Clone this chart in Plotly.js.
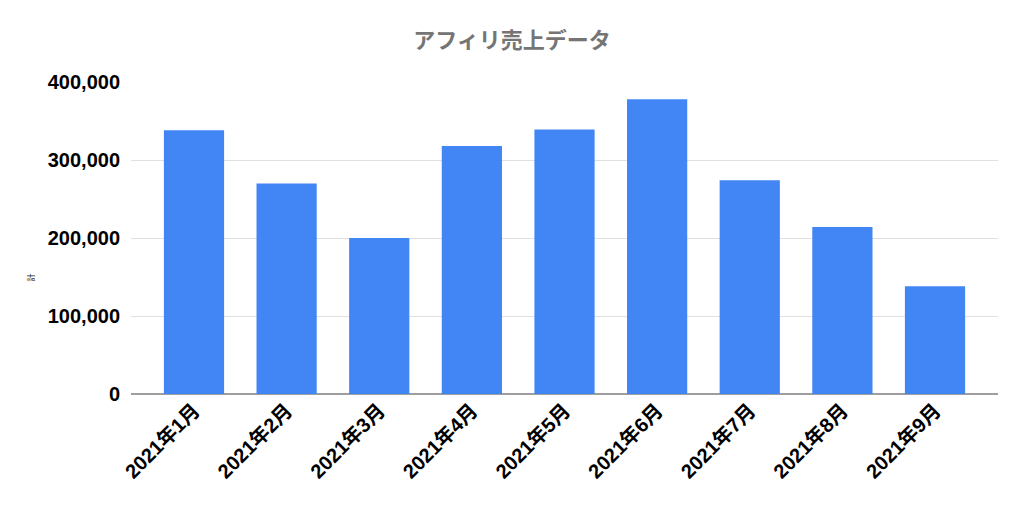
<!DOCTYPE html>
<html>
<head>
<meta charset="utf-8">
<script src="https://cdn.plot.ly/plotly-3.0.1.min.js"></script>
<style>
  html, body { margin: 0; padding: 0; background: #fff; }
  #chart { width: 1024px; height: 508px; }
</style>
</head>
<body>
<div id="chart"></div>
<script>
// Monthly affiliate sales.
const months = [
  "2021年1月", "2021年2月", "2021年3月", "2021年4月", "2021年5月",
  "2021年6月", "2021年7月", "2021年8月", "2021年9月"
];
const sales = [338000, 270000, 200000, 318000, 339000, 378000, 274000, 214000, 138000];
const yTicks = [0, 100000, 200000, 300000, 400000];
const yTickText = ["0", "100,000", "200,000", "300,000", "400,000"];
const yAxisLabel = "計";

const FONT = "Liberation Sans, Arial, 'Noto Sans CJK JP', sans-serif";

const data = [{
  type: "bar",
  x: months,
  y: sales,
  width: 0.65,
  marker: { color: "#4285f4", line: { width: 0 } },
  hoverinfo: "x+y",
}];

const layout = {
  width: 1024,
  height: 508,
  paper_bgcolor: "#ffffff",
  plot_bgcolor: "#ffffff",
  font: { family: FONT, color: "#000000" },
  margin: { l: 131, r: 26, t: 82, b: 114 },
  showlegend: false,
  title: {
    text: "<b>アフィリ売上データ</b>",
    font: { family: "'Noto Sans CJK JP', sans-serif", size: 22, color: "#757575" },
    x: 0.5, xanchor: "center",
    y: 0.92, yanchor: "middle",
  },
  xaxis: {
    type: "category",
    range: [-0.68, 8.68],
    tickangle: -45,
    tickfont: { family: FONT, size: 20, color: "#000000", weight: "bold" },
    showgrid: false,
    showline: false,
    ticks: "",
    fixedrange: true,
  },
  yaxis: {
    range: [0, 400000],
    tickvals: yTicks,
    ticktext: yTickText,
    tickfont: { family: FONT, size: 20, color: "#000000", weight: "bold" },
    gridcolor: "#e0e0e0",
    gridwidth: 1,
    zeroline: true,
    zerolinecolor: "#9e9e9e",
    zerolinewidth: 1.5,
    showline: false,
    ticks: "",
    ticklabelstandoff: 10,
    automargin: false,
    fixedrange: true,
  },
  annotations: [{
    text: yAxisLabel,
    xref: "paper", yref: "paper",
    x: -0.116, y: 0.375,
    xanchor: "center", yanchor: "middle",
    textangle: -90,
    showarrow: false,
    font: { family: "'Noto Sans CJK JP', sans-serif", size: 8, color: "#222222" },
  }],
};

Plotly.newPlot("chart", data, layout, { displayModeBar: false, staticPlot: true });
</script>
</body>
</html>
